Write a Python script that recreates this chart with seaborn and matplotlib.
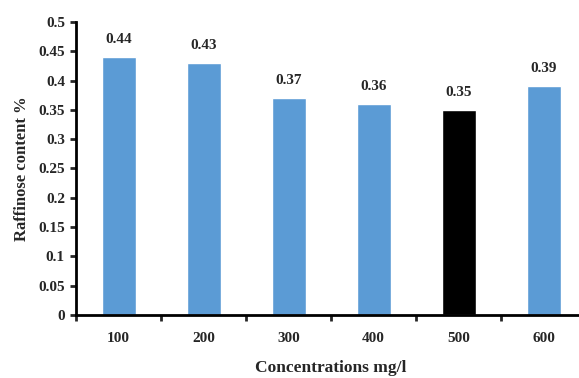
import matplotlib
matplotlib.use("Agg")
import matplotlib.pyplot as plt
import seaborn as sns
import pandas as pd
from matplotlib.ticker import MultipleLocator, FixedLocator

concentrations = ["100", "200", "300", "400", "500", "600"]
raffinose = [0.44, 0.43, 0.37, 0.36, 0.35, 0.39]
bar_colors = ["#5B9BD5", "#5B9BD5", "#5B9BD5", "#5B9BD5", "#000000", "#5B9BD5"]

sns.set_style("white")
plt.rcParams["font.family"] = ["Liberation Serif", "DejaVu Serif"]
plt.rcParams["font.weight"] = "bold"

df = pd.DataFrame({"conc": concentrations, "val": raffinose})

fig = plt.figure(figsize=(5.79, 3.78), dpi=100)
ax = fig.add_axes([76 / 579, 63 / 378, 510 / 579, 293 / 378])

sns.barplot(data=df, x="conc", y="val", hue="conc", palette=bar_colors,
            width=0.4, legend=False, ax=ax, saturation=1)

for i, v in enumerate(raffinose):
    ax.annotate(f"{v:.2f}", (i, v), xytext=(0, 8), textcoords="offset points",
                ha="center", va="bottom", fontsize=11, fontweight="bold")

ax.set_xlim(-0.5, 5.5)
ax.set_ylim(0, 0.5)
ax.yaxis.set_major_locator(MultipleLocator(0.05))
ax.set_yticklabels([f"{t:g}" for t in ax.get_yticks()])
ax.xaxis.set_minor_locator(FixedLocator([i - 0.5 for i in range(7)]))
ax.tick_params(axis="x", which="major", length=0, pad=12, labelsize=11)
ax.tick_params(axis="x", which="minor", length=4, width=2, direction="out", bottom=True)
ax.tick_params(axis="y", length=4, width=2, direction="out", left=True, labelsize=11, pad=4)

for lbl in ax.get_xticklabels() + ax.get_yticklabels():
    lbl.set_fontweight("bold")

sns.despine(ax=ax, top=True, right=True)
ax.spines["left"].set_linewidth(2)
ax.spines["bottom"].set_linewidth(2)
ax.spines["left"].set_color("black")
ax.spines["bottom"].set_color("black")

ax.set_xlabel("Concentrations mg/l", fontsize=12.5, fontweight="bold", labelpad=11)
ax.set_ylabel("Raffinose content %", fontsize=12, fontweight="bold", labelpad=6)

fig.savefig("out.png", dpi=100)
